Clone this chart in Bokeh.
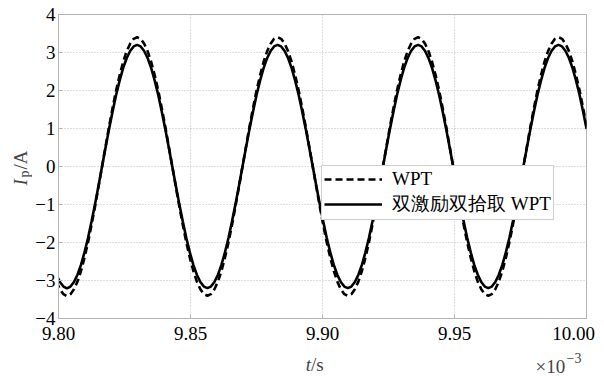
import math
from bokeh.plotting import figure
from bokeh.layouts import row, column
from bokeh.models import FixedTicker, Label, Legend, LegendItem, Range1d
from bokeh.embed import file_html
from bokeh.resources import INLINE

# sample times (x 10^-3 s)
t_ms = [9.79788, 9.79921, 9.80054, 9.80187, 9.80320, 9.80453, 9.80586, 9.80719, 9.80852, 9.80985,
        9.81118, 9.81251, 9.81384, 9.81517, 9.81650, 9.81783, 9.81916, 9.82049, 9.82182, 9.82315,
        9.82448, 9.82581, 9.82714, 9.82847, 9.82980, 9.83113, 9.83246, 9.83379, 9.83512, 9.83645,
        9.83778, 9.83911, 9.84044, 9.84177, 9.84310, 9.84443, 9.84576, 9.84709, 9.84842, 9.84975,
        9.85108, 9.85241, 9.85374, 9.85507, 9.85640, 9.85773, 9.85906, 9.86039, 9.86172, 9.86305,
        9.86438, 9.86571, 9.86704, 9.86837, 9.86970, 9.87103, 9.87236, 9.87369, 9.87502, 9.87635,
        9.87768, 9.87901, 9.88034, 9.88167, 9.88300, 9.88433, 9.88566, 9.88699, 9.88832, 9.88965,
        9.89098, 9.89231, 9.89364, 9.89497, 9.89630, 9.89763, 9.89896, 9.90029, 9.90162, 9.90295,
        9.90428, 9.90561, 9.90694, 9.90827, 9.90960, 9.91093, 9.91226, 9.91359, 9.91492, 9.91625,
        9.91758, 9.91891, 9.92024, 9.92157, 9.92290, 9.92423, 9.92556, 9.92689, 9.92822, 9.92955,
        9.93088, 9.93221, 9.93354, 9.93487, 9.93620, 9.93753, 9.93886, 9.94019, 9.94152, 9.94285,
        9.94418, 9.94551, 9.94684, 9.94817, 9.94950, 9.95083, 9.95216, 9.95349, 9.95482, 9.95615,
        9.95748, 9.95881, 9.96014, 9.96147, 9.96280, 9.96413, 9.96546, 9.96679, 9.96812, 9.96945,
        9.97078, 9.97211, 9.97344, 9.97477, 9.97610, 9.97743, 9.97876, 9.98009, 9.98142, 9.98275,
        9.98408, 9.98541, 9.98674, 9.98807, 9.98940, 9.99073, 9.99206, 9.99339, 9.99472, 9.99605,
        9.99738, 9.99871, 10.00004]

# I_p (A), conventional WPT (dashed)
i_wpt = [-2.75, -3.03, -3.23, -3.36, -3.41, -3.36, -3.23, -3.03, -2.75, -2.40,
         -2.00, -1.54, -1.05, -0.53, 0.00, 0.53, 1.05, 1.54, 2.00, 2.40,
         2.75, 3.03, 3.23, 3.36,
         3.40, 3.36, 3.23, 3.03, 2.75, 2.40, 2.00, 1.54, 1.05, 0.53,
         0.00, -0.53, -1.05, -1.54, -2.00, -2.40, -2.75, -3.03, -3.23, -3.36,
         -3.40, -3.36, -3.23, -3.03, -2.75, -2.40, -2.00, -1.54, -1.05, -0.53,
         0.00, 0.53, 1.05, 1.54, 2.00, 2.40, 2.75, 3.03, 3.23, 3.36,
         3.40, 3.36, 3.23, 3.03, 2.75, 2.40, 2.00, 1.54, 1.05, 0.53,
         0.00, -0.53, -1.05, -1.54, -2.00, -2.40, -2.75, -3.03, -3.23, -3.36,
         -3.40, -3.36, -3.23, -3.03, -2.75, -2.40, -2.00, -1.54, -1.05, -0.53,
         0.00, 0.53, 1.05, 1.54, 2.00, 2.40, 2.75, 3.03, 3.23, 3.36,
         3.40, 3.36, 3.23, 3.03, 2.75, 2.40, 2.00, 1.54, 1.05, 0.53,
         0.00, -0.53, -1.05, -1.54, -2.00, -2.40, -2.75, -3.03, -3.23, -3.36,
         -3.40, -3.36, -3.23, -3.03, -2.75, -2.40, -2.00, -1.54, -1.05, -0.53,
         0.00, 0.53, 1.05, 1.54, 2.00, 2.40, 2.75, 3.03, 3.23, 3.36,
         3.40, 3.36, 3.23, 3.03, 2.75, 2.40, 2.00, 1.54, 1.05]

# I_p (A), dual-excitation dual-pickup WPT (solid)
i_dual = [-2.59, -2.85, -3.04, -3.16, -3.21, -3.16, -3.04, -2.85, -2.59, -2.26,
          -1.88, -1.45, -0.99, -0.50, 0.00, 0.50, 0.99, 1.45, 1.88, 2.26,
          2.59, 2.85, 3.04, 3.16,
          3.20, 3.16, 3.04, 2.85, 2.59, 2.26, 1.88, 1.45, 0.99, 0.50,
          0.00, -0.50, -0.99, -1.45, -1.88, -2.26, -2.59, -2.85, -3.04, -3.16,
          -3.20, -3.16, -3.04, -2.85, -2.59, -2.26, -1.88, -1.45, -0.99, -0.50,
          0.00, 0.50, 0.99, 1.45, 1.88, 2.26, 2.59, 2.85, 3.04, 3.16,
          3.20, 3.16, 3.04, 2.85, 2.59, 2.26, 1.88, 1.45, 0.99, 0.50,
          0.00, -0.50, -0.99, -1.45, -1.88, -2.26, -2.59, -2.85, -3.04, -3.16,
          -3.20, -3.16, -3.04, -2.85, -2.59, -2.26, -1.88, -1.45, -0.99, -0.50,
          0.00, 0.50, 0.99, 1.45, 1.88, 2.26, 2.59, 2.85, 3.04, 3.16,
          3.20, 3.16, 3.04, 2.85, 2.59, 2.26, 1.88, 1.45, 0.99, 0.50,
          0.00, -0.50, -0.99, -1.45, -1.88, -2.26, -2.59, -2.85, -3.04, -3.16,
          -3.20, -3.16, -3.04, -2.85, -2.59, -2.26, -1.88, -1.45, -0.99, -0.50,
          0.00, 0.50, 0.99, 1.45, 1.88, 2.26, 2.59, 2.85, 3.04, 3.16,
          3.20, 3.16, 3.04, 2.85, 2.59, 2.26, 1.88, 1.45, 0.99]

x_ticks = [9.80, 9.85, 9.90, 9.95, 10.00]
x_tick_labels = ["9.80", "9.85", "9.90", "9.95", "10.00\u00a0\u00a0"]
y_ticks = [-4, -3, -2, -1, 0, 1, 2, 3, 4]
y_tick_labels = ["\u22124", "\u22123", "\u22122", "\u22121", "0", "1", "2", "3", "4"]

series_names = ["WPT", "双激励双拾取 WPT"]

FONT = "Liberation Serif"
AX = "#b4b4b4"
W, H = 604, 376
YLAB_W = 32
XLAB_H = 30


def no_align(f):
    try:
        f.frame_align = False
    except Exception:
        pass


def blank_fig(width, height, xr, yr):
    f = figure(width=width, height=height, output_backend="svg",
               toolbar_location=None, x_range=xr, y_range=yr,
               min_border=0, min_border_left=0, min_border_right=0,
               min_border_top=0, min_border_bottom=0)
    f.axis.visible = False
    f.grid.visible = False
    f.outline_line_color = None
    f.background_fill_color = "white"
    f.border_fill_color = "white"
    no_align(f)
    return f


# main chart
p = figure(width=W - YLAB_W, height=H - XLAB_H, output_backend="svg",
           toolbar_location=None,
           x_range=Range1d(9.80, 10.00), y_range=Range1d(-4, 4),
           min_border_left=58 - YLAB_W, min_border_right=18, min_border_top=14,
           min_border_bottom=26, background_fill_color="white",
           border_fill_color="white")
no_align(p)
p.outline_line_color = AX
p.outline_line_width = 1

for ax in (p.xaxis[0], p.yaxis[0]):
    ax.axis_line_color = AX
    ax.major_tick_line_color = AX
    ax.major_tick_in = 4
    ax.major_tick_out = 0
    ax.minor_tick_line_color = None
    ax.major_label_text_font = FONT
    ax.major_label_text_font_size = "19px"
    ax.major_label_text_color = "black"

p.xaxis.ticker = FixedTicker(ticks=x_ticks)
p.xaxis.major_label_overrides = {v: s for v, s in zip(x_ticks, x_tick_labels)}
p.xaxis.major_label_standoff = 4
p.yaxis.ticker = FixedTicker(ticks=y_ticks)
p.yaxis.major_label_overrides = {v: s for v, s in zip(y_ticks, y_tick_labels)}
p.yaxis.major_label_standoff = 3

p.grid.grid_line_color = "#bdbdbd"
p.grid.grid_line_dash = "1 2"
p.grid.grid_line_width = 1

r_wpt = p.line(t_ms, i_wpt, line_color="black", line_width=2.6, line_dash="7 4")
r_dual = p.line(t_ms, i_dual, line_color="black", line_width=2.6)

legend = Legend(items=[LegendItem(label=series_names[0], renderers=[r_wpt]),
                       LegendItem(label=series_names[1], renderers=[r_dual])],
                location=(263, 98), orientation="vertical")
legend.label_text_font = FONT
legend.label_text_font_size = "19px"
legend.label_text_line_height = 1.0
legend.label_text_color = "black"
legend.glyph_width = 58
legend.glyph_height = 20
legend.label_height = 20
legend.label_standoff = 10
legend.padding = 2
legend.spacing = 1
legend.margin = 0
legend.border_line_color = "#a0a0a0"
legend.border_line_width = 1
legend.background_fill_color = "white"
legend.background_fill_alpha = 1.0
p.add_layout(legend, "center")

# y axis title strip (coordinates = page pixels)
ylab = blank_fig(YLAB_W, H, Range1d(0, YLAB_W), Range1d(H, 0))
rot = math.pi / 2
ylab.add_layout(Label(x=20, y=185, text="I", text_font=FONT,
                      text_font_style="italic", text_font_size="19px",
                      text_align="left", text_baseline="alphabetic", angle=rot))
ylab.add_layout(Label(x=23.5, y=177, text="p", text_font=FONT,
                      text_font_size="14px", text_align="left",
                      text_baseline="alphabetic", angle=rot))
ylab.add_layout(Label(x=20, y=169, text="/A", text_font=FONT,
                      text_font_size="19px", text_align="left",
                      text_baseline="alphabetic", angle=rot))

# x axis title strip (coordinates = page pixels)
xlab = blank_fig(W - YLAB_W, XLAB_H, Range1d(YLAB_W, W), Range1d(H, H - XLAB_H))
xlab.add_layout(Label(x=310.5, y=364, text="t", text_font=FONT,
                      text_font_style="italic", text_font_size="19px",
                      text_align="right", text_baseline="alphabetic"))
xlab.add_layout(Label(x=310.5, y=364, text="/s", text_font=FONT,
                      text_font_size="19px", text_align="left",
                      text_baseline="alphabetic"))
xlab.add_layout(Label(x=535, y=366, text="×10", text_font=FONT,
                      text_font_size="19px", text_align="left",
                      text_baseline="alphabetic"))
xlab.add_layout(Label(x=566, y=357, text="\u22123", text_font=FONT,
                      text_font_size="14px", text_align="left",
                      text_baseline="alphabetic"))

layout = row(ylab, column(p, xlab, spacing=0), spacing=0)

open("out.html", "w").write(file_html(layout, INLINE))
